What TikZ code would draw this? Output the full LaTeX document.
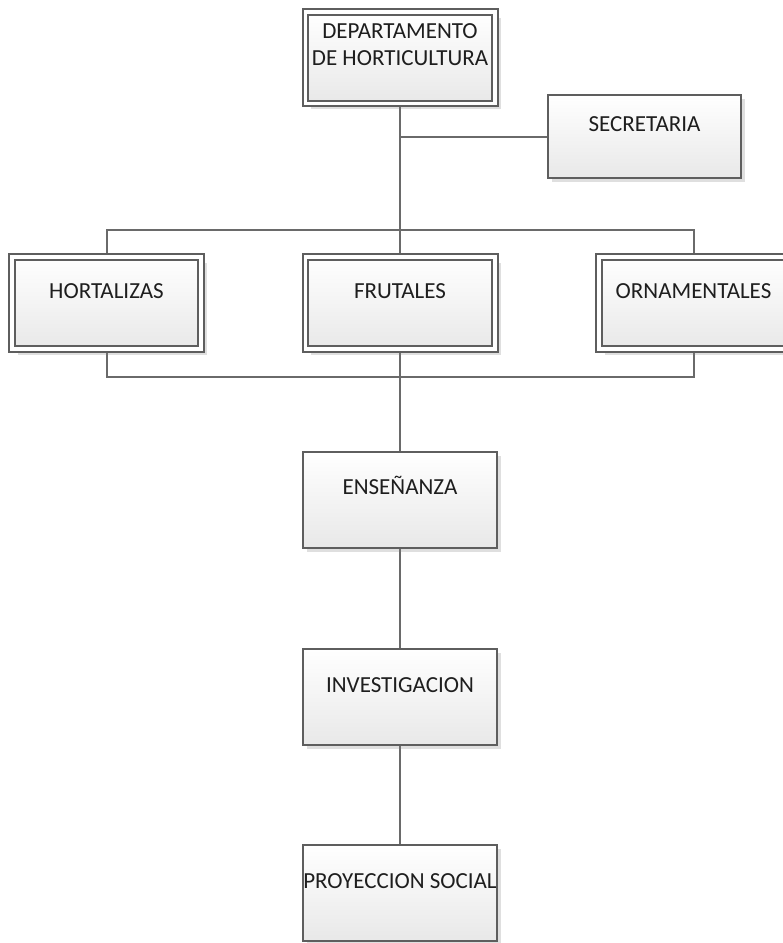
\documentclass[tikz,border=0pt]{standalone}
\usepackage{fontspec}
\setmainfont{Carlito}
\usetikzlibrary{shadows,backgrounds}
\definecolor{boxline}{HTML}{5E5E5E}
\definecolor{linkline}{HTML}{6A6A6A}
\definecolor{boxtext}{HTML}{1E1E1E}
\begin{document}
\begin{tikzpicture}[x=1pt,y=-1pt,
	unit/.style={rectangle,draw=boxline,line width=2pt,top color=white,bottom color=gray!18,
		text=boxtext,font=\fontsize{23}{26.7}\selectfont,inner sep=0pt},
	single/.style={unit,minimum width=194pt,text height=43pt,text depth=53pt,
		drop shadow={shadow xshift=4pt,shadow yshift=-4pt,opacity=0.25,fill=gray}},
	dbl/.style={unit,double=white,double distance=3.7pt,minimum width=189.3pt,
		text height=41.15pt,text depth=51.15pt,
		drop shadow={shadow xshift=6pt,shadow yshift=-6pt,opacity=0.25,fill=gray}},
	link/.style={draw=linkline,line width=2pt}]
				\useasboundingbox (0,0) rectangle (783,943);
				\node[dbl,align=center,text height=52.85pt,text depth=38.45pt] (dep) at (400,57.8) {DEPARTAMENTO\\DE HORTICULTURA};
				\node[single,minimum width=193.6pt,text height=36.4pt,text depth=46.6pt] (sec) at (644.5,136.8) {SECRETARIA};
				\node[dbl] (hor) at (106.5,303) {HORTALIZAS};
				\node[dbl] (fru) at (400,303) {FRUTALES};
				\node[dbl] (orn) at (693.5,303) {ORNAMENTALES};
				\node[single] (ens) at (400,499.7) {ENSEÑANZA};
				\node[single] (inv) at (400,697.3) {INVESTIGACION};
				\node[single] (pro) at (400,893) {PROYECCION SOCIAL};
				\begin{scope}[on background layer]
				\coordinate (upbar) at (400,230);
				\coordinate (lowbar) at (400,377);
				\draw[link] (dep.south) -- (fru.north);
				\draw[link] (sec.west) -- (sec.west -| dep.south);
				\draw[link] (hor.north) |- (upbar) -| (orn.north);
				\draw[link] (hor.south) |- (lowbar) -| (orn.south);
				\draw[link] (fru.south) -- (ens.north);
				\draw[link] (ens.south) -- (inv.north);
				\draw[link] (inv.south) -- (pro.north);
				\end{scope}
			\end{tikzpicture}
\end{document}
